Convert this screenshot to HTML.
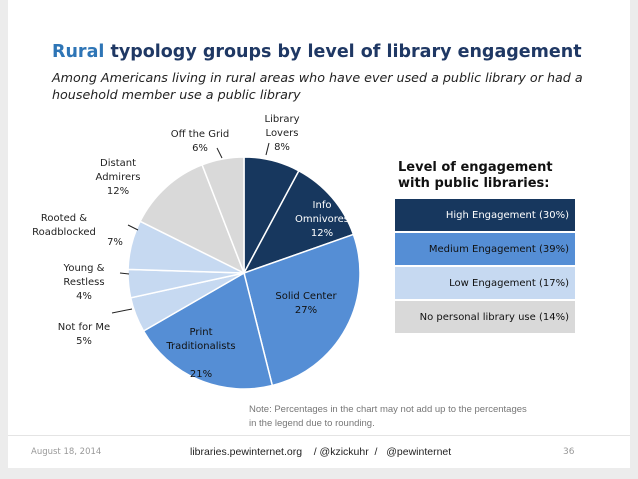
<!DOCTYPE html>
<html><head><meta charset="utf-8"><style>
body{margin:0;width:638px;height:479px;background:#ececec;font-family:"DejaVu Sans",sans-serif;overflow:hidden;position:relative}
.panel{position:absolute;left:8px;top:0;width:622px;height:468px;background:#fff}
.t{position:absolute;white-space:nowrap}
.lg{position:absolute;left:395px;width:180px;height:33px;font-size:10px;text-align:right;box-sizing:border-box;padding-right:6px;line-height:33px;border-bottom:1px solid #fff}
</style></head><body>
<div class="panel"></div>
<div class="t" style="left:52px;top:42px;font-size:17.5px;font-weight:bold;color:#1f3864"><span style="color:#2e75b6">Rural</span> typology groups by level of library engagement</div>
<div class="t" style="left:52px;top:69px;font-size:12.7px;font-style:italic;color:#222;line-height:17px">Among Americans living in rural areas who have ever used a public library or had a<br>household member use a public library</div>
<svg id="pie" width="638" height="479" style="position:absolute;left:0;top:0"></svg>
<div class="t" style="left:398px;top:160px;font-size:13px;font-weight:bold;color:#111;line-height:16px">Level of engagement<br>with public libraries:</div>
<div class="lg" style="top:199px;background:#17375e;color:#fff">High Engagement (30%)</div>
<div class="lg" style="top:233px;background:#558ed5;color:#111">Medium Engagement (39%)</div>
<div class="lg" style="top:267px;background:#c6d9f1;color:#111">Low Engagement (17%)</div>
<div class="lg" style="top:301px;background:#d9d9d9;color:#111">No personal library use (14%)</div>
<div class="t" style="left:249px;top:403px;font-family:'Liberation Sans',sans-serif;font-size:9.5px;color:#777;line-height:14px">Note: Percentages in the chart may not add up to the percentages<br>in the legend due to rounding.</div>
<div style="position:absolute;left:8px;top:435px;width:622px;height:1px;background:#e4e4e4"></div>
<div class="t" style="left:31px;top:447px;font-size:8.5px;color:#999">August 18, 2014</div>
<div class="t" style="left:190px;top:446px;font-family:'Liberation Sans',sans-serif;font-size:10.5px;color:#222">libraries.pewinternet.org &nbsp;&nbsp; / @kzickuhr &nbsp;/ &nbsp; @pewinternet</div>
<div class="t" style="left:563px;top:447px;font-size:9px;color:#999">36</div>
<script>
const categories=["Library Lovers","Info Omnivores","Solid Center","Print Traditionalists","Not for Me","Young & Restless","Rooted & Roadblocked","Distant Admirers","Off the Grid"];
const values=[8,12,27,21,5,4,7,12,6];
const colors=["#17375e","#17375e","#558ed5","#558ed5","#c6d9f1","#c6d9f1","#c6d9f1","#d9d9d9","#d9d9d9"];
const cx=244,cy=273,r=116;
const svg=document.getElementById('pie');
const NS="http://www.w3.org/2000/svg";
const tot=values.reduce((a,b)=>a+b,0);
let a0=0;
values.forEach((v,i)=>{
  const a1=a0+v/tot*2*Math.PI;
  const p=(a)=>[cx+r*Math.sin(a),cy-r*Math.cos(a)];
  const [x0,y0]=p(a0),[x1,y1]=p(a1);
  const path=document.createElementNS(NS,'path');
  path.setAttribute('d',`M${cx},${cy}L${x0},${y0}A${r},${r} 0 ${a1-a0>Math.PI?1:0} 1 ${x1},${y1}Z`);
  path.setAttribute('fill',colors[i]);path.setAttribute('stroke','#fff');path.setAttribute('stroke-width','1.5');
  
  
  svg.appendChild(path);
  a0=a1;
});
const labels=[
 [282,122,["Library","Lovers","8%"],"#222"],
 [322,208,["Info","Omnivores","12%"],"#fff"],
 [306,299,["Solid Center","27%"],"#111"],
 [201,335,["Print","Traditionalists","","21%"],"#111"],
 [84,330,["Not for Me","5%"],"#222"],
 [84,271,["Young &","Restless","4%"],"#222"],
 [64,221,["Rooted &","Roadblocked"],"#222"],
 [118,166,["Distant","Admirers","12%"],"#222"],
 [200,137,["Off the Grid","6%"],"#222"]];
labels.forEach(([x,y,ls,c])=>{
  ls.forEach((s,j)=>{
    const t=document.createElementNS(NS,'text');
    t.setAttribute('x',x);t.setAttribute('y',y+j*14);t.setAttribute('text-anchor','middle');
    t.setAttribute('font-size','10');t.setAttribute('fill',c);t.setAttribute('font-family','DejaVu Sans, sans-serif');
    t.textContent=s;
    
    
    svg.appendChild(t);
  });
});
const t7=document.createElementNS(NS,'text');
t7.setAttribute('x',115);t7.setAttribute('y',245);t7.setAttribute('text-anchor','middle');t7.setAttribute('font-size','10');t7.setAttribute('font-family','DejaVu Sans, sans-serif');t7.setAttribute('fill','#222');t7.textContent='7%';


svg.appendChild(t7);
[[269,143,266,155],[217,148,222,158],[128,225,138,230],[120,273,129,274],[112,313,132,309]].forEach(l=>{
  const ln=document.createElementNS(NS,'line');
  ln.setAttribute('x1',l[0]);ln.setAttribute('y1',l[1]);ln.setAttribute('x2',l[2]);ln.setAttribute('y2',l[3]);ln.setAttribute('stroke','#222');
  
  
  svg.appendChild(ln);
});
</script>
</body></html>
